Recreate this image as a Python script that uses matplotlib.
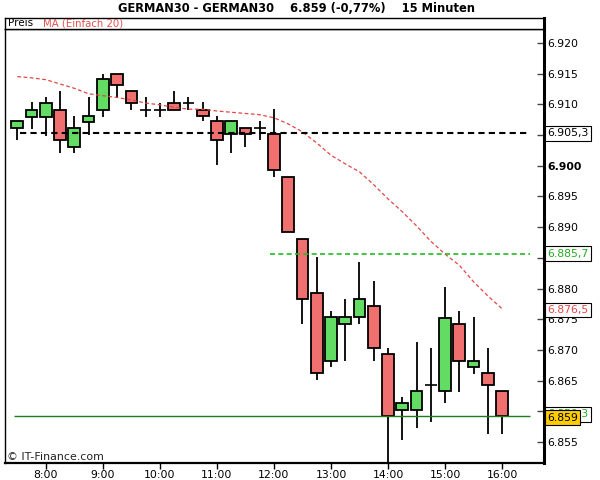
import matplotlib
matplotlib.use('Agg')
import matplotlib.pyplot as plt
from matplotlib.patches import Rectangle
import matplotlib.transforms as mtransforms

# ---------------- data ----------------
times = ['07:30', '07:45', '08:00', '08:15', '08:30', '08:45', '09:00', '09:15', '09:30', '09:45',
         '10:00', '10:15', '10:30', '10:45', '11:00', '11:15', '11:30', '11:45', '12:00', '12:15',
         '12:30', '12:45', '13:00', '13:15', '13:30', '13:45', '14:00', '14:15', '14:30', '14:45',
         '15:00', '15:15', '15:30', '15:45', '16:00']
opens = [6.9061, 6.9080, 6.9080, 6.9091, 6.9031, 6.9071, 6.9091, 6.9150, 6.9121, 6.9091,
         6.9091, 6.9102, 6.9102, 6.9091, 6.9072, 6.9052, 6.9061, 6.9061, 6.9052, 6.8982,
         6.8881, 6.8792, 6.8682, 6.8742, 6.8753, 6.8772, 6.8693, 6.8603, 6.8603, 6.8643,
         6.8633, 6.8742, 6.8673, 6.8662, 6.8633]
highs = [6.9072, 6.9103, 6.9111, 6.9122, 6.9081, 6.9111, 6.9150, 6.9150, 6.9121, 6.9111,
         6.9102, 6.9122, 6.9111, 6.9103, 6.9081, 6.9072, 6.9061, 6.9072, 6.9092, 6.8982,
         6.8881, 6.8851, 6.8763, 6.8783, 6.8843, 6.8812, 6.8703, 6.8623, 6.8713, 6.8703,
         6.8803, 6.8763, 6.8753, 6.8703, 6.8633]
lows = [6.9041, 6.9060, 6.9049, 6.9020, 6.9020, 6.9050, 6.9080, 6.9110, 6.9091, 6.9080,
        6.9080, 6.9091, 6.9091, 6.9072, 6.9001, 6.9020, 6.9031, 6.9041, 6.8981, 6.8892,
        6.8742, 6.8651, 6.8673, 6.8682, 6.8742, 6.8682, 6.8518, 6.8553, 6.8573, 6.8583,
        6.8613, 6.8632, 6.8661, 6.8563, 6.8563]
closes = [6.9072, 6.9091, 6.9102, 6.9041, 6.9061, 6.9081, 6.9141, 6.9131, 6.9102, 6.9091,
          6.9091, 6.9091, 6.9102, 6.9081, 6.9041, 6.9072, 6.9052, 6.9061, 6.8993, 6.8892,
          6.8783, 6.8662, 6.8753, 6.8753, 6.8783, 6.8703, 6.8592, 6.8613, 6.8633, 6.8643,
          6.8752, 6.8682, 6.8682, 6.8643, 6.8592]
ma20 = [6.9145, 6.9143, 6.9140, 6.9133, 6.9126, 6.9117, 6.9114, 6.9111, 6.9107, 6.9102,
        6.9099, 6.9095, 6.9092, 6.9092, 6.9089, 6.9087, 6.9085, 6.9083, 6.9078, 6.9068,
        6.9055, 6.9037, 6.9017, 6.9003, 6.8990, 6.8969, 6.8946, 6.8925, 6.8902, 6.8877,
        6.8856, 6.8838, 6.8811, 6.8788, 6.8767]

xtick_labels = ['8:00', '9:00', '10:00', '11:00', '12:00', '13:00', '14:00', '15:00', '16:00']
ytick_values = [6.855, 6.860, 6.865, 6.870, 6.875, 6.880, 6.885, 6.890, 6.895, 6.900,
                6.905, 6.910, 6.915, 6.920]
level_black = 6.9053
level_green = 6.8857
level_close_line = 6.8593
ma_last = 6.8765
last_price = 6.859

title = 'GERMAN30 - GERMAN30    6.859 (-0,77%)    15 Minuten'

# ---------------- figure ----------------
W, H = 600, 480
fig = plt.figure(figsize=(6, 4.8), dpi=100)
fig.patch.set_facecolor('white')

x0, x1 = 5, 544
ytop, ybot = 28.7, 462.5
ax = fig.add_axes([x0 / W, 1 - ybot / H, (x1 - x0) / W, (ybot - ytop) / H])
ax.set_facecolor('white')

RED = '#F07070'
GREEN = '#62DC62'
bw = 0.82
n = len(times)
idx = list(range(n))

for i, o, h, l, c in zip(idx, opens, highs, lows, closes):
    ax.vlines(i, l, h, color='black', lw=1.3, zorder=2)
    if abs(c - o) < 5e-5:
        ax.hlines(o, i - bw / 2, i + bw / 2, color='black', lw=1.2, zorder=3)
    else:
        ax.add_patch(Rectangle((i - bw / 2, min(o, c)), bw, abs(c - o),
                               facecolor=GREEN if c > o else RED,
                               edgecolor='black', lw=1.3, zorder=3))

ax.plot(idx, ma20, color='#E04848', lw=0.9, ls=(0, (3, 2)), zorder=4)

ax.hlines(level_black, 0.19, 35.95, colors='black', lw=1.5, linestyles=(0, (3, 2)), zorder=5)
ax.hlines(level_green, 17.7, 35.95, colors='#22BB22', lw=1.2, linestyles=(0, (3, 2)), zorder=5)
ax.hlines(level_close_line, -0.2, 35.95, colors='#1E7A1E', lw=1.0, zorder=5)

ax.set_xlim(-0.863, 36.94)
ax.set_ylim(6.85168, 6.9223)

# x axis
xt_pos = [times.index('%02d:00' % int(t.split(':')[0])) for t in xtick_labels]
ax.set_xticks(xt_pos)
ax.set_xticklabels(xtick_labels)
ax.tick_params(axis='x', direction='out', length=4, width=1, pad=1.5, labelsize=7.8, color='black')

# y axis
ax.yaxis.tick_right()
ax.set_yticks(ytick_values)
ax.set_yticklabels(['%.3f' % v for v in ytick_values])
ax.tick_params(axis='y', direction='in', length=5, width=1, pad=2.5, labelsize=7.8, color='#444444')
for lab, v in zip(ax.get_yticklabels(), ytick_values):
    if abs(v - 6.900) < 1e-9:
        lab.set_fontweight('bold')

for side, lw in [('left', 1.0), ('top', 1.0), ('bottom', 1.6), ('right', 2.2)]:
    ax.spines[side].set_linewidth(lw)
    ax.spines[side].set_color('black')

# right-hand value labels
trans = mtransforms.blended_transform_factory(ax.transAxes, ax.transData)
def val_label(y, txt, color, fc='white', z=6):
    ax.text(1.006, y, txt, transform=trans, ha='left', va='center', fontsize=7.8,
            color=color, clip_on=False, zorder=z,
            bbox=dict(boxstyle='square,pad=0.22', fc=fc, ec='black', lw=0.8))

val_label(level_black, '6.905,3', 'black')
val_label(level_green, '6.885,7', '#22AA22')
val_label(ma_last, '6.876,5', '#E04848')
val_label(level_close_line + 0.0002, '6.859,3', '#22AA22')
val_label(last_price, '6.859', 'black', fc='#FFCC00', z=7)

# legend strip
lax = fig.add_axes([x0 / W, 1 - ytop / H, (x1 - x0) / W, (ytop - 17.7) / H])
lax.set_xticks([]); lax.set_yticks([])
for s in lax.spines.values():
    s.set_linewidth(1.0)
lax.spines['right'].set_linewidth(2.2)
fig.text(8 / W, 1 - 23.5 / H, 'Preis', fontsize=7.5, va='center', ha='left', color='black')
fig.text(43 / W, 1 - 23.5 / H, 'MA (Einfach 20)', fontsize=7.3, va='center', ha='left', color='#E05050')

# title
fig.text(296.5 / W, 1 - 8 / H, title, fontsize=8.3, fontweight='bold', ha='center', va='center')

# copyright
fig.text(7 / W, 1 - 457 / H, '© IT-Finance.com', fontsize=7.9, ha='left', va='center', color='#222222')

fig.savefig('out.png', dpi=100, facecolor='white')
